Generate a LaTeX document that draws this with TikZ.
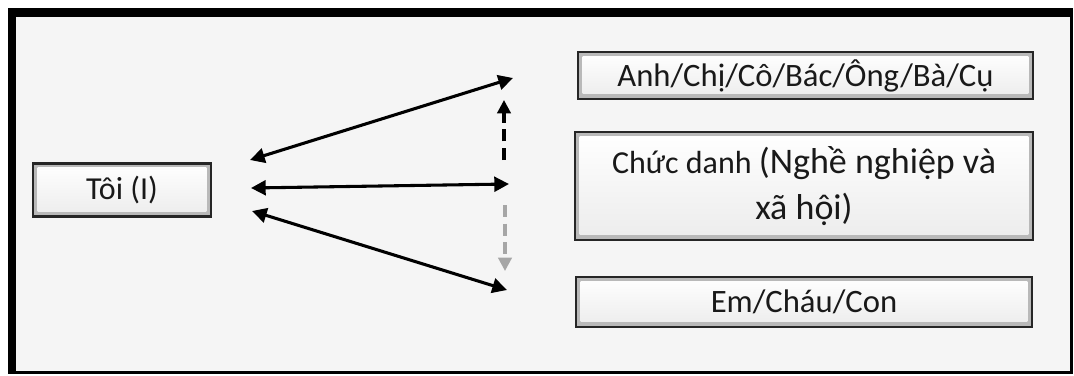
\documentclass[tikz,border=0pt]{standalone}
\usepackage{fontspec}
\setmainfont{Carlito}
\usetikzlibrary{arrows.meta}
\definecolor{bgin}{HTML}{F5F5F5}
\tikzset{
  btn/.style={draw=black!85, line width=1.6pt, fill=gray!55, inner sep=0pt, anchor=center, text=black!90,
    path picture={
      \shade[top color=white, bottom color=gray!15]
        ([shift={(3.5pt,-3pt)}]path picture bounding box.north west) rectangle
        ([shift={(-3.5pt,4pt)}]path picture bounding box.south east);
    }},
  conn/.style={line width=2.3pt, {Triangle[length=11pt,width=11pt]}-{Triangle[length=11pt,width=11pt]}},
  dashup/.style={line width=2.3pt, dash pattern=on 9pt off 5pt, -{Triangle[length=10pt,width=10pt]}},
  txt/.style={font=\fontsize{24.5}{28}\selectfont}
}
\begin{document}
\begin{tikzpicture}[x=0.75pt,y=-0.75pt]
\useasboundingbox (0,0) rectangle (1074,375);
\fill[white] (0,0) rectangle (1074,375);
\fill[black] (8,8) rectangle (1073,374);
\fill[bgin] (16,17) rectangle (1070,371);
% boxes
\node[btn, minimum width=178*0.75pt, minimum height=53*0.75pt, font=\fontsize{24}{28}\selectfont] (toi) at (122,190) {Tôi (I)};
\node[btn, minimum width=455*0.75pt, minimum height=47*0.75pt, txt] (b1) at (805.5,75.5) {Anh/Chị/Cô/Bác/Ông/Bà/Cụ};
\node[btn, minimum width=458*0.75pt, minimum height=108*0.75pt, align=center, font=\fontsize{24}{34.5}\selectfont] (b2) at (804,186) {Chức danh {\fontsize{27}{34.5}\selectfont(Nghề nghiệp và}\\{\fontsize{27}{34.5}\selectfont xã hội)}};
\node[btn, minimum width=456*0.75pt, minimum height=50*0.75pt, txt] (b3) at (804,302) {Em/Cháu/Con};
% arrow end points
\coordinate (t1) at (250,160);
\coordinate (t2) at (513,78);
\coordinate (m1) at (251,188);
\coordinate (m2) at (509,184);
\coordinate (u1) at (252,211);
\coordinate (u2) at (507,290);
\coordinate (da) at (504,160);
\coordinate (db) at (504,100);
\coordinate (dc) at (505,205);
\coordinate (dd) at (505,271);
\draw[conn] (t1) -- (t2);
\draw[conn] (m1) -- (m2);
\draw[conn] (u1) -- (u2);
\draw[dashup] (da) -- (db);
\draw[dashup, gray!70] (dc) -- (dd);
\end{tikzpicture}
\end{document}
